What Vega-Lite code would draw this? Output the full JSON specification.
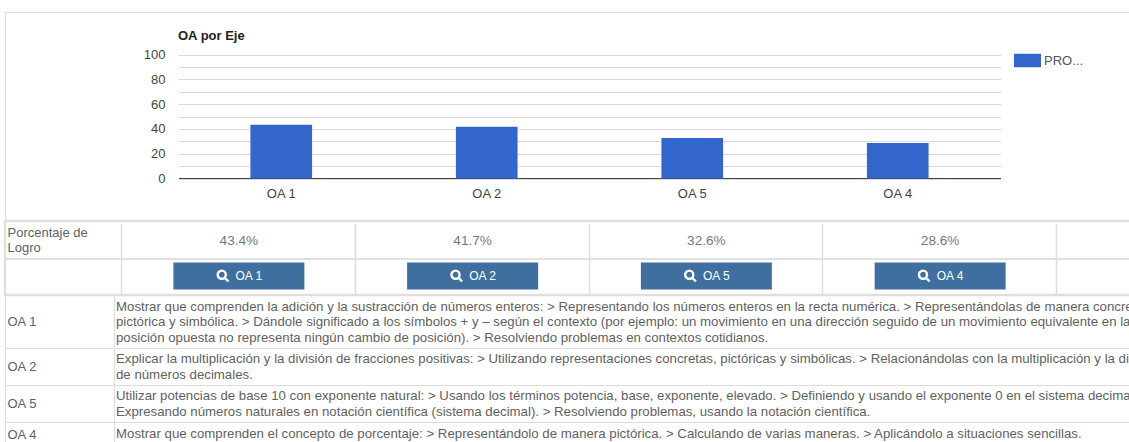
{
"$schema":"https://vega.github.io/schema/vega-lite/v6.json",
"background":"white",
"padding":{"top":11,"left":3,"right":0,"bottom":0},
"autosize":{"type":"pad"},
"spacing":0,
"bounds":"flush",
"config":{"font":"Liberation Sans","text":{"font":"Liberation Sans"}},
"datasets":{"oa":[
{"oa":"OA 1","serie":"PRO...","logro":43.4,"etiqueta":"43.4%","descripcion":"Mostrar que comprenden la adición y la sustracción de números enteros: > Representando los números enteros en la recta numérica. > Representándolas de manera concreta,\npictórica y simbólica. > Dándole significado a los símbolos + y – según el contexto (por ejemplo: un movimiento en una dirección seguido de un movimiento equivalente en la\nposición opuesta no representa ningún cambio de posición). > Resolviendo problemas en contextos cotidianos."},
{"oa":"OA 2","serie":"PRO...","logro":41.7,"etiqueta":"41.7%","descripcion":"Explicar la multiplicación y la división de fracciones positivas: > Utilizando representaciones concretas, pictóricas y simbólicas. > Relacionándolas con la multiplicación y la división\nde números decimales."},
{"oa":"OA 5","serie":"PRO...","logro":32.6,"etiqueta":"32.6%","descripcion":"Utilizar potencias de base 10 con exponente natural: > Usando los términos potencia, base, exponente, elevado. > Definiendo y usando el exponente 0 en el sistema decimal. >\nExpresando números naturales en notación científica (sistema decimal). > Resolviendo problemas, usando la notación científica."},
{"oa":"OA 4","serie":"PRO...","logro":28.6,"etiqueta":"28.6%","descripcion":"Mostrar que comprenden el concepto de porcentaje: > Representándolo de manera pictórica. > Calculando de varias maneras. > Aplicándolo a situaciones sencillas."}
]},
"vconcat":[
{"width":1126,"height":209,"data":{"name":"oa"},
 "view":{"stroke":"#dddddd"},
 "title":{"text":"OA por Eje","anchor":"start","frame":"group","dx":173,"offset":-31,"fontSize":13,"fontWeight":"bold","color":"#222222","font":"Liberation Sans"},
 "mark":{"type":"bar","color":"#3366cc"},
 "encoding":{
  "x":{"field":"oa","type":"nominal","sort":null,"title":null,
   "scale":{"range":[173.5,995.5],"paddingInner":0.7,"paddingOuter":0.35},
   "axis":{"labelAngle":0,"ticks":false,"domainColor":"#444444","labelColor":"#444444","labelFontSize":13,"labelPadding":9,"grid":false,"offset":-43}},
  "y":{"field":"logro","type":"quantitative","title":null,
   "scale":{"domain":[0,100],"range":[166.5,42.5],"nice":false},
   "axis":{"values":[0,10,20,30,40,50,60,70,80,90,100],"labelExpr":"datum.value % 20 == 0 ? datum.label : ''","ticks":false,"domain":false,"grid":true,"gridColor":"#d9d9d9","labelColor":"#444444","labelFontSize":13,"offset":-164,"labelPadding":4}},
  "color":{"field":"serie","type":"nominal","scale":{"range":["#3366cc"]},
   "legend":{"orient":"none","legendX":1009,"legendY":35,"title":null,"symbolType":"M-1,-0.5H1V0.5H-1Z","symbolSize":729,"labelFontSize":13,"labelColor":"#555555","labelOffset":3,"symbolStrokeWidth":0}}
 }},
{"width":1126,"height":74,"data":{"name":"oa"},
 "view":{"stroke":"#e0e0e0","strokeWidth":2.5},
 "encoding":{
  "x":{"field":"oa","type":"nominal","sort":null,"title":null,
   "scale":{"range":[116,1051],"paddingInner":0,"paddingOuter":0},
   "axis":{"orient":"top","labels":false,"ticks":false,"domain":false,"grid":true,"tickBand":"extent","gridColor":"#dddddd","gridWidth":1.5}},
  "y":{"datum":"Porcentaje de Logro","type":"nominal","title":null,
   "scale":{"domain":["Porcentaje de Logro","Acceso"],"range":[2,74],"paddingInner":0,"paddingOuter":0},
   "axis":{"labelExpr":"datum.value == 'Acceso' ? '' : ['Porcentaje de','Logro']","ticks":false,"domain":false,"grid":false,"offset":-113,"labelAlign":"left","labelPadding":111,"labelColor":"#616161","labelFontSize":13,"labelLineHeight":15,"labelOffset":-8,"labelBound":false}}
 },
 "layer":[
  {"mark":{"type":"text","fontSize":13.6,"color":"#777777","xOffset":1},"encoding":{"text":{"field":"etiqueta"}}},
  {"mark":{"type":"rule","color":"#dddddd"},"encoding":{"x":null,"y":{"datum":"Acceso","type":"nominal","bandPosition":0}}},
  {"mark":{"type":"bar","color":"#3e6f9e","width":131,"height":27,"xOffset":1,"yOffset":-1},"encoding":{"y":{"datum":"Acceso","type":"nominal"}}},
  {"mark":{"type":"text","fontSize":12,"color":"white","dx":10,"xOffset":1,"yOffset":-1},"encoding":{"y":{"datum":"Acceso","type":"nominal"},"text":{"field":"oa"}}},
  {"mark":{"type":"point","shape":"M0.3,0.3L0.85,0.85M0.45,-0.2A0.62,0.62 0 1 0 -0.8,-0.2A0.62,0.62 0 1 0 0.45,-0.2Z","size":169,"filled":false,"stroke":"white","strokeWidth":2.4,"opacity":1,"xOffset":-15,"yOffset":-1},"encoding":{"y":{"datum":"Acceso","type":"nominal"}}}
 ]},
{"width":1126,"height":53,"data":{"name":"oa"},"transform":[{"filter":"datum.oa == 'OA 1'"}],"view":{"stroke":"#dddddd"},
 "mark":{"type":"text","align":"left","fontSize":13.24,"color":"#616161","lineBreak":"\n","lineHeight":15.5,"dy":-15,"clip":true},
 "encoding":{
  "x":{"field":"oa","type":"nominal","axis":null,"scale":{"type":"point","align":0,"padding":0,"range":[111,1126]}},
  "y":{"field":"oa","type":"nominal","title":null,"axis":{"ticks":false,"domain":true,"domainColor":"#dddddd","offset":-109,"labelAlign":"left","labelPadding":107,"labelColor":"#616161","labelFontSize":13}},
  "text":{"field":"descripcion"}}},
{"width":1126,"height":37,"data":{"name":"oa"},"transform":[{"filter":"datum.oa == 'OA 2'"}],"view":{"stroke":"#dddddd"},
 "mark":{"type":"text","align":"left","fontSize":13.24,"color":"#616161","lineBreak":"\n","lineHeight":15.5,"dy":-7.5,"clip":true},
 "encoding":{
  "x":{"field":"oa","type":"nominal","axis":null,"scale":{"type":"point","align":0,"padding":0,"range":[111,1126]}},
  "y":{"field":"oa","type":"nominal","title":null,"axis":{"ticks":false,"domain":true,"domainColor":"#dddddd","offset":-109,"labelAlign":"left","labelPadding":107,"labelColor":"#616161","labelFontSize":13}},
  "text":{"field":"descripcion"}}},
{"width":1126,"height":37,"data":{"name":"oa"},"transform":[{"filter":"datum.oa == 'OA 5'"}],"view":{"stroke":"#dddddd"},
 "mark":{"type":"text","align":"left","fontSize":13.24,"color":"#616161","lineBreak":"\n","lineHeight":15.5,"dy":-7.5,"clip":true},
 "encoding":{
  "x":{"field":"oa","type":"nominal","axis":null,"scale":{"type":"point","align":0,"padding":0,"range":[111,1126]}},
  "y":{"field":"oa","type":"nominal","title":null,"axis":{"ticks":false,"domain":true,"domainColor":"#dddddd","offset":-109,"labelAlign":"left","labelPadding":107,"labelColor":"#616161","labelFontSize":13}},
  "text":{"field":"descripcion"}}},
{"width":1126,"height":21,"data":{"name":"oa"},"transform":[{"filter":"datum.oa == 'OA 4'"}],"view":{"stroke":"#dddddd"},
 "mark":{"type":"text","align":"left","fontSize":13.24,"color":"#616161","clip":true},
 "encoding":{
  "x":{"field":"oa","type":"nominal","axis":null,"scale":{"type":"point","align":0,"padding":0,"range":[111,1126]}},
  "y":{"field":"oa","type":"nominal","title":null,"scale":{"range":[0,24]},"axis":{"ticks":false,"domain":true,"domainColor":"#dddddd","offset":-109,"labelAlign":"left","labelPadding":107,"labelColor":"#616161","labelFontSize":13}},
  "text":{"field":"descripcion"}}}
]
}
